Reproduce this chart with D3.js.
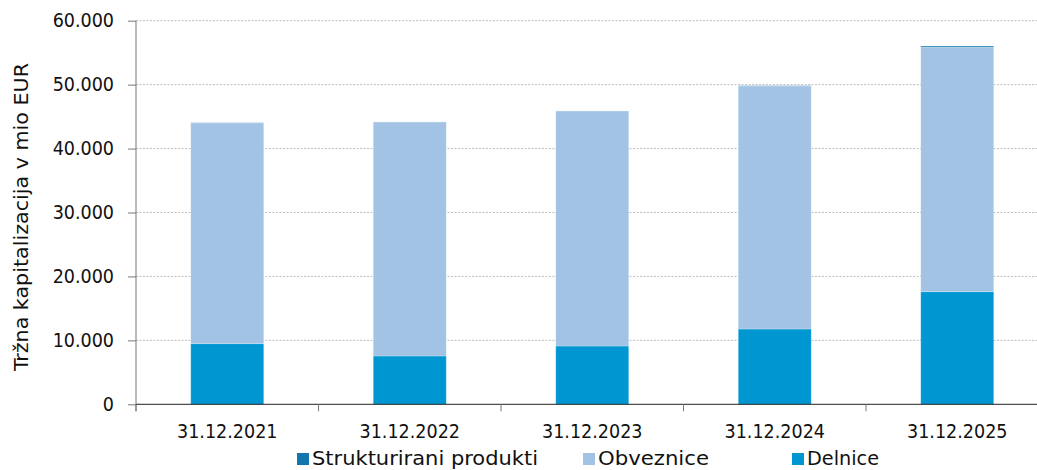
<!DOCTYPE html>
<html><head><meta charset="utf-8">
<script src="https://cdn.jsdelivr.net/npm/d3@7"></script>
<style>body{margin:0;background:#fff}svg{display:block}</style>
</head><body>
<svg id="c" width="1037" height="470"></svg>
<script>
const categories = ["31.12.2021","31.12.2022","31.12.2023","31.12.2024","31.12.2025"];
const delnice = [9480, 7560, 9120, 11780, 17610];
const obveznice = [34540, 36570, 36730, 38020, 38250];
const strukturirani = [30, 30, 30, 40, 180];
const yTicks = [0,10000,20000,30000,40000,50000,60000];
const seriesNames = ["Delnice","Obveznice","Strukturirani produkti"];
const colors = {"Delnice":"#0096D1","Obveznice":"#A2C3E3","Strukturirani produkti":"#1177AD"};
const legendOrder = ["Strukturirani produkti","Obveznice","Delnice"];

const svg = d3.select("#c");
const font = "'DejaVu Sans Condensed', 'DejaVu Sans', sans-serif";
const x0 = 136, x1 = 136 + 182.5*5, yBottom = 404.3, yTop = 20.7;
const x = d3.scaleBand().domain(categories).range([x0, x1]).paddingInner(0.6).paddingOuter(0.3);
const xb = d3.scaleBand().domain(categories).range([x0, x1]);
const y = d3.scaleLinear().domain([0,60000]).range([yBottom, yTop]);

const rows = categories.map((c,i)=>({cat:c,"Delnice":delnice[i],"Obveznice":obveznice[i],"Strukturirani produkti":strukturirani[i]}));
const stack = d3.stack().keys(seriesNames)(rows);

// gridlines
svg.append("g").selectAll("line").data(yTicks.filter(t=>t>0)).join("line")
  .attr("x1",x0).attr("x2",1037).attr("y1",d=>y(d)).attr("y2",d=>y(d))
  .attr("stroke","#BDBDBD").attr("stroke-width",1).attr("stroke-dasharray","2,1.5");

// bars
svg.append("g").selectAll("g").data(stack).join("g").attr("fill",d=>colors[d.key])
  .selectAll("rect").data(d=>d).join("rect")
  .attr("x",d=>x(d.data.cat)).attr("width",x.bandwidth())
  .attr("y",d=>y(d[1])).attr("height",d=>y(d[0])-y(d[1]))
  .attr("stroke","#ffffff").attr("stroke-opacity",0.3).attr("stroke-width",0.8);

// y axis
const ya = svg.append("g").attr("transform",`translate(${x0},0)`)
  .call(d3.axisLeft(y).tickValues(yTicks).tickSize(8).tickPadding(14)
    .tickFormat(d=>d3.format(",")(d).replace(/,/g,".")));
ya.select(".domain").attr("stroke","#777").attr("d",`M0,${yTop}V${yBottom+7}`);
ya.selectAll(".tick line").attr("stroke","#777");
ya.selectAll("text").attr("font-family",font).attr("font-size",19.5).attr("fill","#111");

// x axis
const xa = svg.append("g").attr("transform",`translate(0,${yBottom})`)
  .call(d3.axisBottom(xb).tickSize(0).tickPadding(20));
xa.select(".domain").attr("stroke","#222").attr("d",`M${x0},0H1037`);
xa.selectAll("text").attr("font-family",font).attr("font-size",19.5).attr("fill","#111");
svg.append("g").selectAll("line").data(categories).join("line")
  .attr("x1",d=>xb(d)).attr("x2",d=>xb(d)).attr("y1",yBottom).attr("y2",yBottom+7)
  .attr("stroke","#777");

// y title
svg.append("text").attr("transform","translate(28,217) rotate(-90)")
  .attr("text-anchor","middle").attr("font-family",font).attr("font-size",20).attr("fill","#111")
  .attr("textLength",308).attr("lengthAdjust","spacingAndGlyphs")
  .text("Tržna kapitalizacija v mio EUR");

// legend
const legX = [297, 583, 792];
const lg = svg.append("g").selectAll("g").data(legendOrder).join("g")
  .attr("transform",(d,i)=>`translate(${legX[i]},0)`);
lg.append("rect").attr("x",0).attr("y",453).attr("width",12).attr("height",12).attr("fill",d=>colors[d]);
lg.append("text").attr("x",15).attr("y",465).attr("font-family",font).attr("font-size",20)
  .attr("fill","#111").attr("textLength",(d,i)=>[226,111,72][i]).attr("lengthAdjust","spacingAndGlyphs").text(d=>d);
</script>
</body></html>
